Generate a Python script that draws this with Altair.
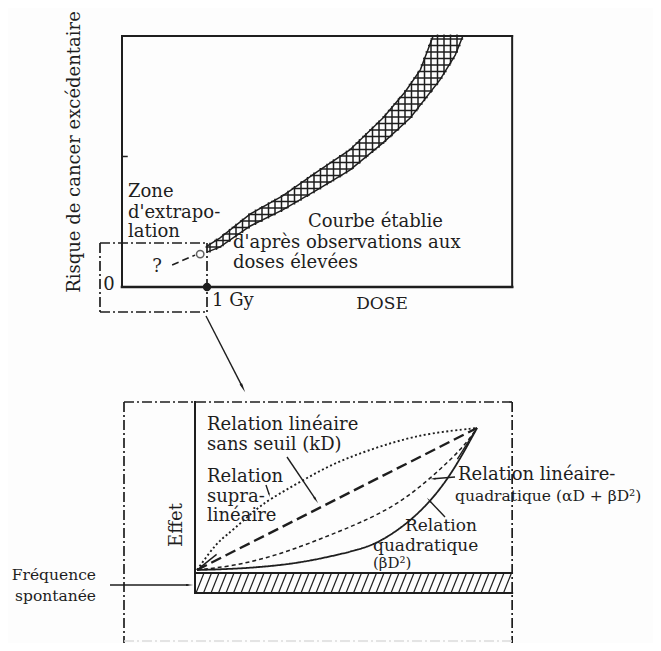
import math
import altair as alt
import numpy as np
import pandas as pd

# ---------------- data: upper panel (dose in Gy, excess risk 0..1) ----------------
DOSE_MAX_TOP = 4.59
band_upper_dose = [1.00, 1.15, 1.51, 1.89, 2.29, 2.68, 3.07, 3.33, 3.51, 3.66]
band_upper_risk = [0.163, 0.195, 0.291, 0.363, 0.458, 0.546, 0.673, 0.777, 0.865, 1.0]
band_lower_dose = [1.00, 1.15, 1.51, 1.89, 2.29, 2.68, 3.07, 3.39, 3.74, 3.92, 4.01]
band_lower_risk = [0.139, 0.159, 0.243, 0.307, 0.386, 0.466, 0.574, 0.673, 0.825, 0.924, 1.0]
extrap_dose = [0.59, 0.86]
extrap_risk = [0.088, 0.127]
obs_point_dose = [0.92]
obs_point_risk = [0.131]
gy_point_dose = [1.0]
risk_tick = [0.52]

# ---------------- data: lower panel (relative dose 0..1, effect 0..1) ----------------
supra_dose = [0, 0.046, 0.082, 0.129, 0.207, 0.261, 0.368, 0.475, 0.593, 0.714, 0.832, 1.0]
supra_eff = [0, 0.127, 0.211, 0.282, 0.423, 0.50, 0.62, 0.739, 0.831, 0.908, 0.965, 1.0]
lin_dose = [0, 1.0]
lin_eff = [0, 1.0]
lq_dose = [0, 0.129, 0.25, 0.368, 0.475, 0.582, 0.714, 0.832, 0.95, 1.0]
lq_eff = [0, 0.028, 0.085, 0.162, 0.246, 0.331, 0.458, 0.641, 0.859, 1.0]
quad_dose = [0, 0.129, 0.261, 0.368, 0.475, 0.582, 0.654, 0.771, 0.893, 1.0]
quad_eff = [0, 0.007, 0.026, 0.052, 0.094, 0.145, 0.197, 0.352, 0.613, 1.0]
spont_band = [-0.021, -0.162]   # spontaneous frequency band (effect units)

# ---------------- panel placement on the page ----------------
TX0, TPX, TY0, TH = 122, 85.0, 287, 251.0
BX0, BW, BY0, BH = 197, 280.0, 570, 142.0


def tx(d):
    return TX0 + np.asarray(d, dtype=float) * TPX


def ty(r):
    return TY0 - np.asarray(r, dtype=float) * TH


def bx(d):
    return BX0 + np.asarray(d, dtype=float) * BW


def by(e):
    return BY0 - np.asarray(e, dtype=float) * BH


INK = "#1e1e1e"
FONT = "DejaVu Serif"

X = alt.X("x:Q", scale=alt.Scale(domain=[8, 653]), axis=None)
Y = alt.Y("y:Q", scale=alt.Scale(domain=[8, 643], reverse=True), axis=None)
X2 = alt.X2("x2:Q")
Y2 = alt.Y2("y2:Q")

# ---------------- frames ----------------
t_left, t_right = float(tx(0)), float(tx(DOSE_MAX_TOP))
t_bot, t_top = float(ty(0)), float(ty(1))
b_axis_x = 195
b_band_top, b_band_bot = float(by(spont_band[0])), float(by(spont_band[1]))
box_right = t_right

solid = pd.DataFrame([
    dict(x=t_left, y=t_top, x2=t_right, y2=t_top, w=2.0),
    dict(x=t_left, y=t_top, x2=t_left, y2=t_bot, w=2.0),
    dict(x=t_right, y=t_top, x2=t_right, y2=t_bot, w=2.0),
    dict(x=t_left, y=t_bot, x2=t_right, y2=t_bot, w=2.6),
    dict(x=t_left, y=float(ty(risk_tick[0])), x2=t_left + 5, y2=float(ty(risk_tick[0])), w=1.5),
    dict(x=b_axis_x, y=402, x2=b_axis_x, y2=b_band_bot, w=2.0),
    dict(x=b_axis_x, y=b_band_top, x2=box_right, y2=b_band_top, w=1.8),
    dict(x=b_axis_x, y=b_band_bot, x2=box_right, y2=b_band_bot, w=2.0),
])

dashdot = pd.DataFrame([
    dict(x=100, y=243, x2=float(tx(1)), y2=243, c=INK),
    dict(x=100, y=312, x2=float(tx(1)), y2=312, c=INK),
    dict(x=100, y=243, x2=100, y2=312, c=INK),
    dict(x=float(tx(1)), y=243, x2=float(tx(1)), y2=312, c=INK),
    dict(x=124, y=402, x2=box_right, y2=402, c=INK),
    dict(x=124, y=402, x2=124, y2=651, c=INK),
    dict(x=box_right, y=402, x2=box_right, y2=651, c=INK),
    dict(x=124, y=641, x2=box_right, y2=641, c="#dcdcdc"),
])

# ---------------- cross-hatched band (upper panel) ----------------
ux, uy = tx(band_upper_dose), ty(band_upper_risk)
lx, ly = tx(band_lower_dose), ty(band_lower_risk)
hatch = []
for xv in np.arange(ux[0] + 3, lx[-1], 6.5):
    ytop = max(t_top, float(np.interp(xv, ux, uy)))
    ybot = float(np.interp(xv, lx, ly))
    if ybot - ytop > 1:
        hatch.append(dict(x=xv, y=ytop - 1.5, x2=xv, y2=ybot + 1.5))
for yv in np.arange(t_top + 3, ly[0], 6.5):
    xl = float(np.interp(yv, uy[::-1], ux[::-1]))
    xr = float(np.interp(yv, ly[::-1], lx[::-1]))
    xl = max(xl, ux[0])
    if xr - xl > 1:
        hatch.append(dict(x=xl - 1.5, y=yv, x2=xr + 1.5, y2=yv))
hatch = pd.DataFrame(hatch)
band_edges = pd.concat([
    pd.DataFrame(dict(x=ux, y=uy, k="u", o=range(len(ux)))),
    pd.DataFrame(dict(x=lx, y=ly, k="l", o=range(len(lx)))),
])

# diagonal hatching of the spontaneous-frequency band
diag = []
for xv in np.arange(b_axis_x + 1, box_right - 8, 7.5):
    diag.append(dict(x=xv, y=b_band_bot, x2=xv + 8, y2=b_band_top))
diag = pd.DataFrame(diag)

# ---------------- curves (lower panel) ----------------
curves = {
    "supra": (supra_dose, supra_eff, [2, 2.5], 1.9),
    "lin": (lin_dose, lin_eff, [11, 5], 2.4),
    "lq": (lq_dose, lq_eff, [4, 3], 1.5),
    "quad": (quad_dose, quad_eff, [1, 0], 1.8),
}
curve_layers = []
for name, (d, e, dash, w) in curves.items():
    df = pd.DataFrame(dict(x=bx(d), y=by(e), o=range(len(d))))
    curve_layers.append(
        alt.Chart(df).mark_line(color=INK, strokeDash=dash, strokeWidth=w, interpolate="basis")
        .encode(x=X, y=Y, order="o:Q")
    )

extrap = pd.DataFrame(dict(x=tx(extrap_dose), y=ty(extrap_risk)))

# ---------------- arrows ----------------
arrows = [
    # (x_from, y_from, x_to, y_to, head size)
    (206, 316, 245, 392, 120),
    (110, 585, 193, 585, 70),
    (287, 457, 318, 503, 70),
    (266, 485, 270, 497, 25),
    (455, 477, 430, 479, 45),
    (445, 517, 427, 498, 45),
    (float(bx(0.93)), float(by(0.78)), float(bx(1.0)), float(by(1.0)), 60),
    (float(bx(0.07)), float(by(0.11)), float(bx(0.0)), float(by(0.0)), 60),
]
arrow_lines, heads = [], []
for (x0, y0, x1, y1, s) in arrows:
    dx, dy = x1 - x0, y1 - y0
    n = math.hypot(dx, dy)
    ang = math.degrees(math.atan2(dx, -dy)) % 360
    off = math.sqrt(s) * 0.55
    heads.append(dict(x=x1 - dx / n * off, y=y1 - dy / n * off, a=ang, s=s))
    if n > 12:
        arrow_lines.append(dict(x=x0, y=y0, x2=x1 - dx / n * off, y2=y1 - dy / n * off))
arrow_lines = pd.DataFrame(arrow_lines)
heads = pd.DataFrame(heads)

# ---------------- texts ----------------
texts = pd.DataFrame([
    dict(t="Zone", x=128, y=192, al="left", fs=18),
    dict(t="d'extrapo-", x=128, y=213, al="left", fs=18),
    dict(t="lation", x=128, y=232, al="left", fs=18),
    dict(t="Courbe établie", x=308, y=222, al="left", fs=18),
    dict(t="d'après observations aux", x=233, y=243, al="left", fs=18),
    dict(t="doses élevées", x=233, y=263, al="left", fs=18),
    dict(t="?", x=157, y=267, al="center", fs=18),
    dict(t="0", x=109, y=285, al="center", fs=18),
    dict(t="1 Gy", x=212, y=301, al="left", fs=18),
    dict(t="DOSE", x=382, y=304, al="center", fs=17),
    dict(t="Relation linéaire", x=207, y=425, al="left", fs=18),
    dict(t="sans seuil (kD)", x=207, y=445, al="left", fs=18),
    dict(t="Relation", x=207, y=477, al="left", fs=18),
    dict(t="supra-", x=207, y=497, al="left", fs=18),
    dict(t="linéaire", x=207, y=516, al="left", fs=18),
    dict(t="Relation linéaire-", x=458, y=475, al="left", fs=18),
    dict(t="quadratique (αD + βD²)", x=455, y=496, al="left", fs=15.5),
    dict(t="Relation", x=405, y=526, al="left", fs=17),
    dict(t="quadratique", x=373, y=546, al="left", fs=17),
    dict(t="(βD²)", x=373, y=563, al="left", fs=15),
    dict(t="Fréquence", x=96, y=575, al="right", fs=15.5),
    dict(t="spontanée", x=96, y=596, al="right", fs=15.5),
])
vtexts = pd.DataFrame([
    dict(t="Risque de cancer excédentaire", x=75, y=152, fs=18),
    dict(t="Effet", x=177, y=525, fs=18),
])


def text_layer(df, align):
    return alt.Chart(df[df.al == align]).mark_text(
        font=FONT, color=INK, align=align, baseline="middle"
    ).encode(x=X, y=Y, text="t:N", size=alt.Size("fs:Q", scale=None))


layers = [
    alt.Chart(solid).mark_rule(color=INK, strokeCap="square").encode(
        x=X, y=Y, x2=X2, y2=Y2, strokeWidth=alt.StrokeWidth("w:Q", scale=None)),
    alt.Chart(dashdot).mark_rule(strokeWidth=1.7, strokeDash=[10, 3, 2, 3]).encode(
        x=X, y=Y, x2=X2, y2=Y2, color=alt.Color("c:N", scale=None)),
    alt.Chart(hatch).mark_rule(color=INK, strokeWidth=1.5).encode(x=X, y=Y, x2=X2, y2=Y2),
    alt.Chart(band_edges).mark_line(color=INK, strokeWidth=1.5).encode(
        x=X, y=Y, detail="k:N", order="o:Q"),
    alt.Chart(diag).mark_rule(color=INK, strokeWidth=1.2).encode(x=X, y=Y, x2=X2, y2=Y2),
    *curve_layers,
    alt.Chart(extrap).mark_line(color=INK, strokeDash=[7, 4], strokeWidth=1.6).encode(x=X, y=Y),
    alt.Chart(pd.DataFrame(dict(x=tx(obs_point_dose), y=ty(obs_point_risk)))).mark_point(
        shape="circle", filled=False, color=INK, size=55, strokeWidth=1.5).encode(x=X, y=Y),
    alt.Chart(pd.DataFrame(dict(x=tx(gy_point_dose), y=ty([0])))).mark_point(
        shape="circle", filled=True, color=INK, size=70, opacity=1).encode(x=X, y=Y),
    alt.Chart(arrow_lines).mark_rule(color=INK, strokeWidth=1.4).encode(x=X, y=Y, x2=X2, y2=Y2),
    alt.Chart(heads).mark_point(shape="wedge", filled=True, color=INK, opacity=1).encode(
        x=X, y=Y, angle=alt.Angle("a:Q", scale=None), size=alt.Size("s:Q", scale=None)),
    text_layer(texts, "left"),
    text_layer(texts, "center"),
    text_layer(texts, "right"),
    alt.Chart(vtexts).mark_text(font=FONT, color=INK, angle=270,
                                align="center", baseline="middle").encode(
        x=X, y=Y, text="t:N", size=alt.Size("fs:Q", scale=None)),
]

chart = alt.layer(*layers).properties(
    width=645, height=635, padding=0, background="#fdfdfd",
    autosize=alt.AutoSizeParams(type="none"),
).configure_view(stroke=None)

chart.save("out.html", embed_options={"renderer": "svg", "actions": False})
